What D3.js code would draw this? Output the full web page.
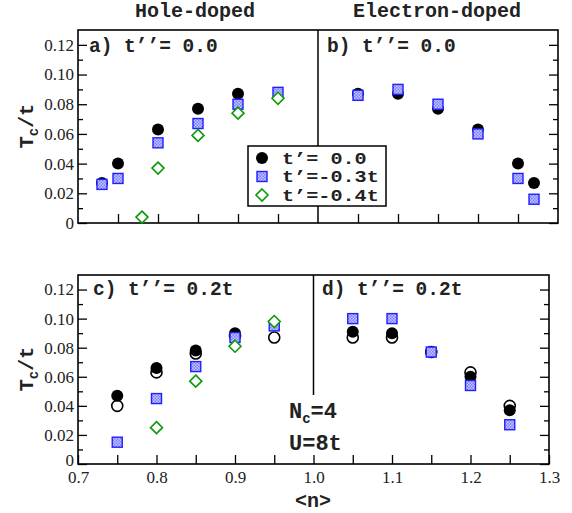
<!DOCTYPE html>
<html>
<head>
<meta charset="utf-8">
<script src="https://cdn.jsdelivr.net/npm/d3@7"></script>
<style>
  body { margin: 0; background: #fff; }
  .mono { font-family: "Liberation Mono", "DejaVu Sans Mono", monospace; font-weight: bold; fill: #222; }
  .tick line { stroke: #000; stroke-width: 1.3; }
</style>
</head>
<body>
<svg id="chart" width="572" height="513"></svg>
<script>
// panel a (hole-doped, t''=0)
const aN0 = [0.73, 0.75, 0.80, 0.85, 0.90];
const aT0 = [0.027, 0.040, 0.063, 0.077, 0.087];
const aN3 = [0.73, 0.75, 0.80, 0.85, 0.90, 0.95];
const aT3 = [0.026, 0.030, 0.054, 0.067, 0.080, 0.088];
const aN4 = [0.78, 0.80, 0.85, 0.90, 0.95];
const aT4 = [0.004, 0.037, 0.059, 0.074, 0.084];
// panel b (electron-doped, t''=0)
const bN = [1.05, 1.10, 1.15, 1.20, 1.25, 1.27];
const bT0 = [0.087, 0.087, 0.077, 0.063, 0.040, 0.027];
const bT3 = [0.086, 0.090, 0.080, 0.060, 0.030, 0.016];
// panel c (hole-doped, t''=0.2t)
const cN = [0.75, 0.80, 0.85, 0.90, 0.95];
const cRef = [0.040, 0.063, 0.076, 0.088, 0.087]; // open circles
const cN0 = [0.75, 0.80, 0.85, 0.90];
const cT0 = [0.047, 0.066, 0.078, 0.090];
const cT3 = [0.015, 0.045, 0.067, 0.087, 0.095];
const cN4 = [0.80, 0.85, 0.90, 0.95];
const cT4 = [0.025, 0.057, 0.081, 0.098];
// panel d (electron-doped, t''=0.2t)
const dN = [1.05, 1.10, 1.15, 1.20, 1.25];
const dRef = [0.087, 0.087, 0.077, 0.063, 0.040];
const dT0 = [0.091, 0.090, 0.077, 0.060, 0.037];
const dT3 = [0.100, 0.100, 0.077, 0.054, 0.027];

const yMajor = [0, 0.02, 0.04, 0.06, 0.08, 0.10, 0.12];
const yMinor = [0.01, 0.03, 0.05, 0.07, 0.09, 0.11];
const xLabels = [0.7, 0.8, 0.9, 1.0, 1.1, 1.2, 1.3];
const xTicksTop = [0.75, 0.8, 0.85, 0.9, 0.95, 1.05, 1.1, 1.15, 1.2, 1.25];
const xTicksBot = [0.75, 0.85, 0.95, 1.05, 1.15, 1.25];
const legendLabels = ["t\u2019= 0.0", "t\u2019=-0.3t", "t\u2019=-0.4t"];

const svg = d3.select("#chart");
const defs = svg.append("defs");
const pat = defs.append("pattern").attr("id", "chk")
  .attr("width", 3).attr("height", 3).attr("patternUnits", "userSpaceOnUse");
pat.append("rect").attr("width", 3).attr("height", 3).attr("fill", "#c8c8ff");
pat.append("rect").attr("width", 1.5).attr("height", 1.5).attr("fill", "#7a7aff");
pat.append("rect").attr("x", 1.5).attr("y", 1.5).attr("width", 1.5).attr("height", 1.5).attr("fill", "#7a7aff");

function makePanel(x0, x1, y0, y1, showXLabels) {
  const x = d3.scaleLinear().domain([0.7, 1.3]).range([x0, x1]);
  const y = d3.scaleLinear().domain([0, 0.13]).range([y0, y1]);
  const g = svg.append("g");

  g.append("g").attr("transform", `translate(${x0},0)`)
    .call(d3.axisLeft(y).tickValues(yMajor).tickSize(-9).tickSizeOuter(0).tickPadding(4)
      .tickFormat(d => d === 0 ? "0" : d3.format(".2f")(d)))
    .selectAll(".tick text").filter(d => d === 0).attr("dy", showXLabels ? "0.1em" : "0.32em");
  g.append("g").attr("transform", `translate(${x0},0)`)
    .call(d3.axisLeft(y).tickValues(yMinor).tickSize(-5).tickSizeOuter(0).tickFormat(""));
  g.append("g").attr("transform", `translate(${x1},0)`)
    .call(d3.axisRight(y).tickValues(yMajor).tickSize(-9).tickSizeOuter(0).tickFormat(""));
  g.append("g").attr("transform", `translate(${x1},0)`)
    .call(d3.axisRight(y).tickValues(yMinor).tickSize(-5).tickSizeOuter(0).tickFormat(""));

  if (showXLabels) {
    g.append("g").attr("transform", `translate(0,${y0})`)
      .call(d3.axisBottom(x).tickValues(xLabels).tickSize(-9).tickSizeOuter(0).tickPadding(7)
        .tickFormat(d3.format(".1f")));
    g.append("g").attr("transform", `translate(0,${y0})`)
      .call(d3.axisBottom(x).tickValues(xTicksBot).tickSize(-9).tickSizeOuter(0).tickFormat(""));
  } else {
    g.append("g").attr("transform", `translate(0,${y0})`)
      .call(d3.axisBottom(x).tickValues(xTicksTop).tickSize(-9).tickSizeOuter(0).tickFormat(""));
  }
  g.selectAll(".domain").remove();
  g.selectAll(".tick text")
    .style("font-family", "'Liberation Serif', 'DejaVu Serif', serif")
    .style("font-size", "17px").style("fill", "#222");

  g.append("rect").attr("x", x0).attr("y", y1).attr("width", x1 - x0).attr("height", y0 - y1)
    .attr("fill", "none").attr("stroke", "#000").attr("stroke-width", 1.6);
  return { g, x, y };
}

function filled(p, ns, ts) {
  p.g.append("g").selectAll("circle").data(ns).join("circle")
    .attr("cx", d => p.x(d)).attr("cy", (d, i) => p.y(ts[i])).attr("r", 6).attr("fill", "#000");
}
function open(p, ns, ts) {
  p.g.append("g").selectAll("circle").data(ns).join("circle")
    .attr("cx", d => p.x(d)).attr("cy", (d, i) => p.y(ts[i])).attr("r", 5.5)
    .attr("fill", "none").attr("stroke", "#000").attr("stroke-width", 1.6);
}
function squares(p, ns, ts) {
  p.g.append("g").selectAll("rect").data(ns).join("rect")
    .attr("x", d => p.x(d) - 5).attr("y", (d, i) => p.y(ts[i]) - 5)
    .attr("width", 10).attr("height", 10)
    .attr("fill", "url(#chk)").attr("stroke", "#2020ff").attr("stroke-width", 1.4);
}
function diamonds(p, ns, ts) {
  p.g.append("g").selectAll("path").data(ns).join("path")
    .attr("transform", (d, i) => `translate(${p.x(d)},${p.y(ts[i])})`)
    .attr("d", "M0,-6L6,0L0,6L-6,0Z")
    .attr("fill", "#fff").attr("stroke", "#0a9a0a").attr("stroke-width", 1.6);
}

// top panel
const topP = makePanel(78, 558, 223, 30, false);
topP.g.append("line").attr("x1", topP.x(1.0)).attr("x2", topP.x(1.0))
  .attr("y1", 30).attr("y2", 223).attr("stroke", "#000").attr("stroke-width", 1.5);
filled(topP, aN0, aT0);
squares(topP, aN3, aT3);
diamonds(topP, aN4, aT4);
filled(topP, bN, bT0);
squares(topP, bN, bT3);

// bottom panel
const botP = makePanel(78, 549, 464, 275, true);
botP.g.append("line").attr("x1", botP.x(1.0)).attr("x2", botP.x(1.0))
  .attr("y1", 275).attr("y2", 395).attr("stroke", "#000").attr("stroke-width", 1.5);
filled(botP, cN0, cT0);
open(botP, cN, cRef);
squares(botP, cN, cT3);
diamonds(botP, cN4, cT4);
filled(botP, dN, dT0);
open(botP, dN, dRef);
squares(botP, dN, dT3);

// legend
const lg = svg.append("g");
lg.append("rect").attr("x", 248).attr("y", 146).attr("width", 138).attr("height", 60)
  .attr("fill", "#fff").attr("stroke", "#000").attr("stroke-width", 1.5);
const ly = d3.scalePoint().domain(legendLabels).range([158, 195]);
const lp = { g: lg, x: () => 262, y: v => v };
filled(lp, [0], [ly(legendLabels[0])]);
squares(lp, [0], [ly(legendLabels[1])]);
diamonds(lp, [0], [ly(legendLabels[2])]);
lg.selectAll("text").data(legendLabels).join("text").attr("class", "mono")
  .attr("x", 282).attr("y", d => ly(d) + 5.5).attr("font-size", 16)
  .attr("textLength", d => d.length * 12.1).attr("lengthAdjust", "spacingAndGlyphs")
  .text(d => d);

// texts
function label(x, y, txt, size, anchor) {
  return svg.append("text").attr("class", "mono").attr("x", x).attr("y", y)
    .attr("font-size", size).attr("text-anchor", anchor || "start").text(txt);
}
label(195, 17, "Hole-doped", 20, "middle");
label(437, 17, "Electron-doped", 20, "middle");
label(89, 52, "a) t\u2019\u2019= 0.0", 19.5);
label(327, 52, "b) t\u2019\u2019= 0.0", 19.5);
label(93, 295, "c) t\u2019\u2019= 0.2t", 19.5);
label(322, 295, "d) t\u2019\u2019= 0.2t", 19.5);
label(313, 507, "<n>", 20, "middle");

const nc = svg.append("text").attr("class", "mono").attr("x", 289).attr("y", 418).attr("font-size", 22);
nc.append("tspan").text("N");
nc.append("tspan").attr("font-size", 14).attr("dy", 5).text("c");
nc.append("tspan").attr("dy", -5).text("=4");
label(289, 450, "U=8t", 22);

[126, 369].forEach(cy => {
  const t = svg.append("text").attr("class", "mono").attr("font-size", 20)
    .attr("text-anchor", "middle")
    .attr("transform", `translate(33,${cy}) rotate(-90)`);
  t.append("tspan").text("T");
  t.append("tspan").attr("font-size", 14).attr("dy", 5).text("c");
  t.append("tspan").attr("dy", -5).text("/t");
});
</script>
</body>
</html>
